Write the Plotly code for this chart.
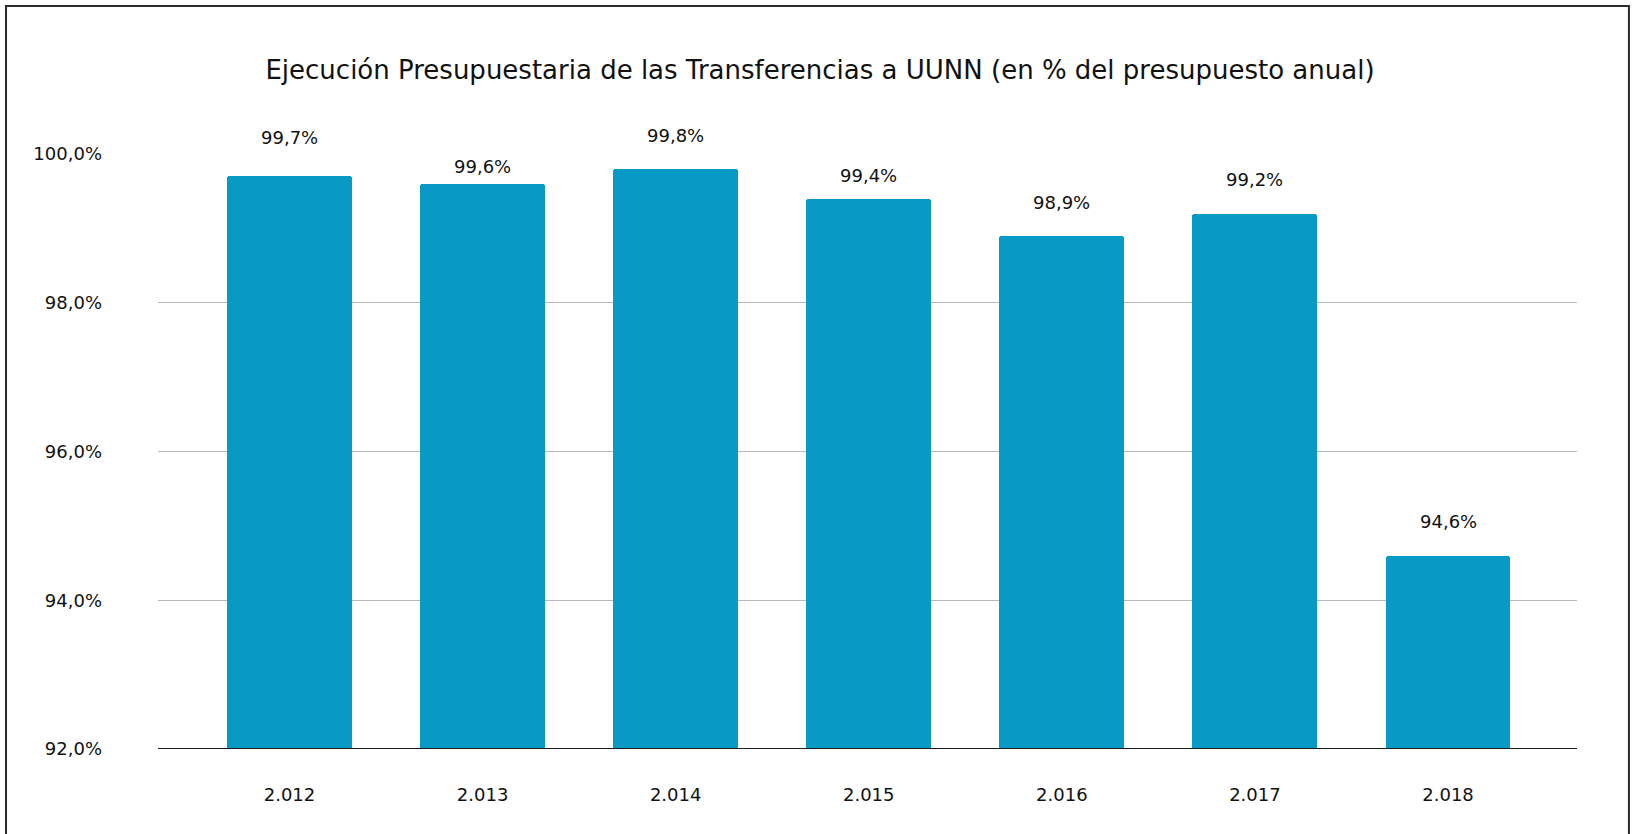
import plotly.graph_objects as go

years = ["2.012", "2.013", "2.014", "2.015", "2.016", "2.017", "2.018"]
execution_pct = [99.7, 99.6, 99.8, 99.4, 98.9, 99.2, 94.6]
label_text = ["99,7%", "99,6%", "99,8%", "99,4%", "98,9%", "99,2%", "94,6%"]
label_shift_px = [39, 17, 33, 23, 33, 34, 34]
y_ticks = [92, 94, 96, 98, 100]
y_tick_text = ["92,0%", "94,0%", "96,0%", "98,0%", "100,0%"]

BAR_COLOR = "#0899C4"
FONT = "DejaVu Sans"
TEXT = "#111111"

fig = go.Figure()
fig.add_trace(go.Bar(
    x=list(range(len(years))),
    y=execution_pct,
    marker=dict(color=BAR_COLOR, cornerradius=3, line=dict(width=0)),
    width=0.647,
    hoverinfo="skip",
))

for i, (v, t, s) in enumerate(zip(execution_pct, label_text, label_shift_px)):
    fig.add_annotation(x=i, y=v, text=t, showarrow=False, yanchor="middle",
                       yshift=s, font=dict(family=FONT, size=18, color=TEXT))

# outer frame
fig.add_shape(type="rect", xref="paper", yref="paper",
              x0=-0.1071, x1=1.0366, y0=-0.3, y1=1.2487,
              line=dict(color="#2a2a2a", width=2), layer="below")

fig.update_layout(
    width=1636, height=834,
    margin=dict(l=158, r=59, t=154, b=85),
    paper_bgcolor="white", plot_bgcolor="white",
    separators=",.",
    showlegend=False,
    font=dict(family=FONT, size=18, color=TEXT),
    title=dict(text="Ejecución Presupuestaria de las Transferencias a UUNN (en % del presupuesto anual)",
               x=820 / 1636, xref="container", xanchor="center", y=1 - 70 / 834, yanchor="middle",
               font=dict(family=FONT, size=26, color=TEXT)),
    bargap=0,
)
fig.update_xaxes(
    tickmode="array", tickvals=list(range(len(years))), ticktext=years,
    range=[-0.681, 6.668], showgrid=False, zeroline=False,
    showline=False, ticks="", ticklabelstandoff=33,
    tickfont=dict(family=FONT, size=18, color=TEXT),
)
fig.update_yaxes(
    range=[92, 100], tickmode="array", tickvals=y_ticks, ticktext=y_tick_text,
    showgrid=True, gridcolor="#B8B8B8", gridwidth=1.4,
    zeroline=False, showline=False, ticks="", ticklabelstandoff=55,
    tickfont=dict(family=FONT, size=18, color=TEXT),
)
# baseline axis line at 92
fig.add_shape(type="line", xref="paper", yref="y", x0=0, x1=1, y0=92, y1=92,
              line=dict(color="#1a1a1a", width=1.8), layer="above")

fig.write_html(
    "out.html",
    config={"displayModeBar": False},
    post_script="document.body.style.margin='0';document.body.style.overflow='hidden';"
                "document.documentElement.style.overflow='hidden';",
)
